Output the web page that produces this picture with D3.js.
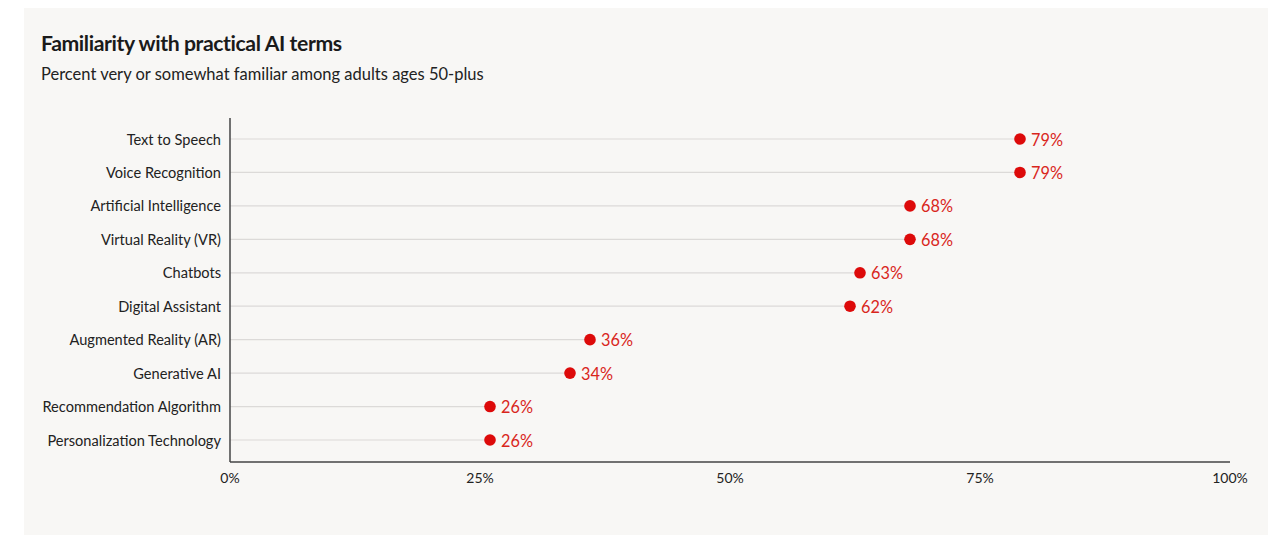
<!DOCTYPE html>
<html>
<head>
<meta charset="utf-8">
<script src="https://cdn.jsdelivr.net/npm/d3@7"></script>
<style>
  body { margin: 0; background: #fff; }
  svg { display: block; font-family: "Source Sans Pro", Lato, "Noto Sans", sans-serif; }
</style>
</head>
<body>
<svg id="chart" width="1280" height="554"></svg>
<script>
const terms = [
    "Text to Speech",
    "Voice Recognition",
    "Artificial Intelligence",
    "Virtual Reality (VR)",
    "Chatbots",
    "Digital Assistant",
    "Augmented Reality (AR)",
    "Generative AI",
    "Recommendation Algorithm",
    "Personalization Technology",
];
const familiar = [79, 79, 68, 68, 63, 62, 36, 34, 26, 26];
const xTicks = [0, 25, 50, 75, 100];

const data = terms.map((term, i) => ({ term, value: familiar[i] }));

const svg = d3.select("#chart");

// panel
svg.append("rect")
    .attr("x", 24).attr("y", 8)
    .attr("width", 1244).attr("height", 527)
    .attr("fill", "#f8f7f5");

svg.append("text")
    .attr("x", 41).attr("y", 51)
    .attr("font-size", 21.2).attr("font-weight", 700)
    .attr("fill", "#1a1a1a")
    .attr("letter-spacing", -0.4)
    .text("Familiarity with practical AI terms");

svg.append("text")
    .attr("x", 41).attr("y", 80)
    .attr("font-size", 16.5)
    .attr("fill", "#222")
    .text("Percent very or somewhat familiar among adults ages 50-plus");

const x = d3.scaleLinear().domain([0, 100]).range([230, 1230]);
const y = d3.scalePoint().domain(terms).range([139, 440]);

const axisTop = 118, axisBottom = 462;

// grid lines from axis to dot
svg.append("g")
    .selectAll("line")
    .data(data)
    .join("line")
    .attr("x1", x(0)).attr("x2", (d) => x(d.value))
    .attr("y1", (d) => y(d.term)).attr("y2", (d) => y(d.term))
    .attr("stroke", "#dcdad8").attr("stroke-width", 1.2);

// category labels
svg.append("g")
    .selectAll("text")
    .data(data)
    .join("text")
    .attr("x", 221)
    .attr("y", (d) => y(d.term))
    .attr("dy", "0.38em")
    .attr("text-anchor", "end")
    .attr("font-size", 14.6)
    .attr("fill", "#222")
    .text((d) => d.term);

// axes lines
svg.append("line")
    .attr("x1", x(0)).attr("x2", x(0))
    .attr("y1", axisTop).attr("y2", axisBottom)
    .attr("stroke", "#444").attr("stroke-width", 1.5);
svg.append("line")
    .attr("x1", x(0)).attr("x2", x(100))
    .attr("y1", axisBottom).attr("y2", axisBottom)
    .attr("stroke", "#444").attr("stroke-width", 1.5);

// tick labels
svg.append("g")
    .selectAll("text")
    .data(xTicks)
    .join("text")
    .attr("x", (d) => x(d))
    .attr("y", 483)
    .attr("text-anchor", "middle")
    .attr("font-size", 14)
    .attr("fill", "#222")
    .text((d) => d + "%");

// dots
svg.append("g")
    .selectAll("circle")
    .data(data)
    .join("circle")
    .attr("cx", (d) => x(d.value))
    .attr("cy", (d) => y(d.term))
    .attr("r", 5.8)
    .attr("fill", "#dd0a0a");

// value labels
svg.append("g")
    .selectAll("text")
    .data(data)
    .join("text")
    .attr("x", (d) => x(d.value) + 11)
    .attr("y", (d) => y(d.term))
    .attr("dy", "0.4em")
    .attr("font-size", 16.3)
    .attr("fill", "#d9261c")
    .text((d) => d.value + "%");
</script>
</body>
</html>
